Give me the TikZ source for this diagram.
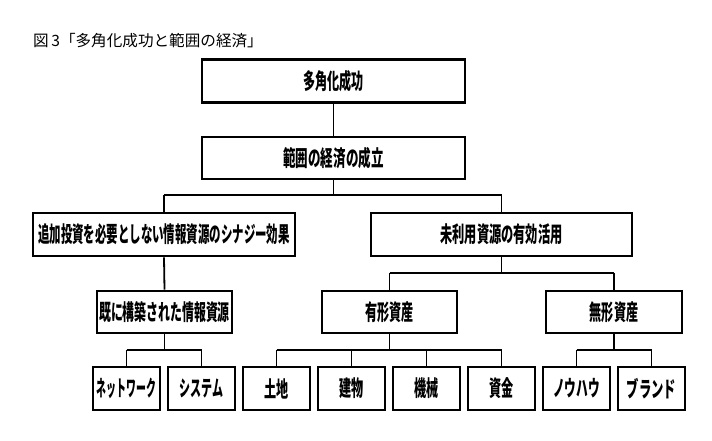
\documentclass[tikz,border=0pt]{standalone}
\usepackage{fontspec}
\newfontfamily\jp{Noto Sans CJK JP}
\newcommand{\bx}[2][0.55]{\scalebox{#1}[1]{\jp\bfseries\fontsize{22pt}{24pt}\selectfont #2}}
\begin{document}
\begin{tikzpicture}[x=1pt,y=-1pt,
  box/.style={draw, line width=2.6pt, fill=white, inner sep=0pt},
  conn/.style={line width=1.8pt},
  thin/.style={line width=1.3pt},
  bus/.style={line width=2.8pt}]
\useasboundingbox[fill=white] (0,0) rectangle (712,441);
\node[anchor=base west, inner sep=0pt] (title) at (33,47) {\jp\fontsize{15.6pt}{17pt}\selectfont 図\,3「多角化成功と範囲の経済」};
% level 1-2
\node[box, minimum width=263pt, minimum height=43pt] (n1) at (333.5,81) {\bx{多角化成功}};
\node[box, minimum width=263pt, minimum height=42pt] (n2) at (333.5,158) {\bx[0.57]{範囲の経済の成立}};
% level 3
\node[box, minimum width=262pt, minimum height=43pt] (n3) at (164,234.5) {\bx[0.52]{追加投資を必要としない情報資源のシナジー効果}};
\node[box, minimum width=261pt, minimum height=43pt] (n4) at (501.5,234.5) {\bx[0.555]{未利用資源の有効活用}};
% level 4
\node[box, minimum width=135pt, minimum height=42pt] (n5) at (164.5,312) {\bx[0.54]{既に構築された情報資源}};
\node[box, minimum width=135pt, minimum height=42pt] (n6) at (389.5,312) {\bx[0.55]{有形資産}};
\node[box, minimum width=136pt, minimum height=42pt] (n7) at (614,312) {\bx[0.55]{無形資産}};
% level 5
\node[box, minimum width=67pt, minimum height=43pt] (l1) at (126.5,388.5) {\bx[0.45]{ネットワーク}};
\node[box, minimum width=67pt, minimum height=43pt] (l2) at (201.5,388.5) {\bx[0.5]{システム}};
\node[box, minimum width=67pt, minimum height=43pt] (l3) at (276.5,388.5) {\bx[0.55]{土地}};
\node[box, minimum width=67pt, minimum height=43pt] (l4) at (351.5,388.5) {\bx[0.55]{建物}};
\node[box, minimum width=67pt, minimum height=43pt] (l5) at (426.5,388.5) {\bx[0.55]{機械}};
\node[box, minimum width=67pt, minimum height=43pt] (l6) at (501.5,388.5) {\bx[0.55]{資金}};
\node[box, minimum width=67pt, minimum height=43pt] (l7) at (576.5,388.5) {\bx[0.53]{ノウハウ}};
\node[box, minimum width=67pt, minimum height=43pt] (l8) at (651.5,388.5) {\bx[0.56]{ブランド}};
% bus coordinates
\coordinate (b2) at (0,195);
\coordinate (b4) at (0,273);
\coordinate (b5) at (0,350);
% connectors
\draw[conn] (n1.south) -- (n2.north);
\draw[conn] (n2.south) -- (n2.south |- b2);
\draw[bus] (n3.north |- b2) -- (n4.north |- b2);
\draw[conn] (n3.north |- b2) -- (n3.north);
\draw[conn] (n4.north |- b2) -- (n4.north);
\draw[conn] (n3.south) -- (n5.north);
\draw[conn] (n4.south) -- (n4.south |- b4);
\draw[bus] (n6.north |- b4) -- (n7.north |- b4);
\draw[conn] (n6.north |- b4) -- (n6.north);
\draw[conn] (n7.north |- b4) -- (n7.north);
\draw[conn] (n5.south) -- (n5.south |- b5);
\draw[bus] (l1.north |- b5) -- (l2.north |- b5);
\draw[thin] (l1.north |- b5) -- (l1.north);
\draw[thin] (l2.north |- b5) -- (l2.north);
\draw[conn] (n6.south) -- (n6.south |- b5);
\draw[bus] (l3.north |- b5) -- (l6.north |- b5);
\draw[thin] (l3.north |- b5) -- (l3.north);
\draw[thin] (l4.north |- b5) -- (l4.north);
\draw[thin] (l5.north |- b5) -- (l5.north);
\draw[thin] (l6.north |- b5) -- (l6.north);
\draw[conn] (n7.south) -- (n7.south |- b5);
\draw[bus] (l7.north |- b5) -- (l8.north |- b5);
\draw[thin] (l7.north |- b5) -- (l7.north);
\draw[thin] (l8.north |- b5) -- (l8.north);
\end{tikzpicture}
\end{document}
